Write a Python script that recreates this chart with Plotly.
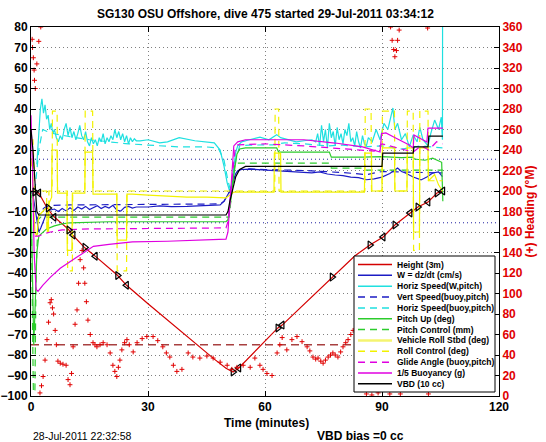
import plotly.graph_objects as go

# ---------------- data ----------------
TITLE = "SG130 OSU Offshore, dive 475 started 29-Jul-2011 03:34:12"
X_TITLE = "Time (minutes)"
Y2_TITLE = "(+) Heading (°M)"
FOOT_LEFT = "28-Jul-2011 22:32:58"
FOOT_MID = "VBD bias =0 cc"
X_TICKS = [0, 30, 60, 90, 120]
Y_TICKS = list(range(-100, 81, 10))
Y2_TICKS = list(range(0, 361, 20))
LEGEND_LABELS = ["Height (3m)", "W = dz/dt (cm/s)", "Horiz Speed(W,pitch)",
                 "Vert Speed(buoy,pitch)", "Horiz Speed(buoy,pitch)", "Pitch Up (deg)",
                 "Pitch Control (mm)", "Vehicle Roll Stbd (deg)", "Roll Control (deg)",
                 "Glide Angle (buoy,pitch)", "1/5 Buoyancy (g)", "VBD (10 cc)"]

height_t = [0, 1, 2, 4, 5.7, 9.6, 10.7, 13.8, 16.6, 22.1, 24.5, 30, 35, 40, 43.3, 47, 50, 51.8,
            53.3, 55, 58, 63.3, 64.4, 70, 77.2, 83, 86.9, 90.3, 93.3, 97.2, 99.2, 101.8, 104.1, 105.6]
height_v = [0, -0.5, -1, -7.8, -12.2, -18.7, -21.5, -27.7, -32, -41, -46, -55, -63, -71, -76, -82, -86.5, -88.3,
            -86.3, -83, -77, -66.8, -65.4, -55.2, -42, -31.7, -26.3, -22.4, -16.6, -10.7, -7.8, -5.4, -1, 0]
target_t = [0, 105.6]
target_v = [-75, -75]
wlim_t = [0, 120]
wlim_hi = [15.5, 15.5]
wlim_lo = [-15.5, -15.5]

w_t = [0, 0.5, 1.0, 1.5, 2.0, 2.5, 3.0, 3.5, 4.0, 4.5, 5, 6, 7, 8, 9, 10, 11, 12, 13, 14, 15, 16, 17, 18, 19,
       20, 21, 22, 23, 24, 25, 26, 27, 28, 30, 33, 36, 40, 44, 47, 48.5, 49.5, 50.3, 51, 51.5, 52, 52.5, 53, 54,
       56, 60, 64, 68, 72, 74, 76, 78, 80, 82, 84, 86, 88, 90, 92, 94, 95, 96, 98, 100, 101.5, 103, 104.5, 105.5]
w_v = [0, -2, -8, -15, -20, -18, -15.6, -12.7, -10.7, -9.5, -9.3, -8.8, -10, -8.5, -9.7, -8.2, -9.5, -7.8, -8.8,
       -7.5, -9, -8, -7.2, -8.5, -7.5, -8.3, -7, -9.3, -9.8, -8, -7.5, -8.3, -7.8, -7.8, -7.8, -7.3, -7.6, -7.5,
       -7.3, -7, -6.8, -5, -2.5, 0, 3, 6, 8.5, 9.8, 10.5, 10.7, 10.2, 9.5, 9, 8.8, 9.3, 8.3, 7.8, 7.5, 6.8, 6.5,
       5.5, 5.9, 6.8, 8.5, 11.2, 9.5, 8.8, 6.8, 5.4, 6.8, 8.8, 9.3, 7]

vs_t = [1.5, 2.5, 3.5, 5, 10, 20, 30, 40, 48.5, 49.5, 50.3, 51, 51.5, 52, 52.5, 53.5, 56, 60, 70, 80, 86,
        90, 95, 100, 105.5]
vs_v = [-14, -10, -8, -7, -6.8, -6.7, -6.6, -6.5, -6.3, -5, -2.5, 0, 3, 6.5, 9, 10.5, 10.8, 10.5, 10, 9, 8,
        9.5, 9.2, 9, 8.8]

hs_t = [1.5, 2.0, 2.4, 2.8, 3.2, 3.6, 4.0, 4.4, 4.8, 5.2, 5.6, 6.0, 6.5, 7.0, 7.5, 8.0, 8.5, 9.0, 9.5, 10,
        10.5, 11, 11.5, 12, 12.5, 13, 13.5, 14, 14.5, 15, 15.5, 16, 16.5, 17, 17.5, 18, 18.5, 19, 19.5, 20,
        20.5, 21, 21.5, 22, 22.5, 23, 23.5, 24, 24.5, 25, 25.5, 26, 26.5, 27, 28, 30, 33, 35, 38, 42,
        45, 47, 48.5, 49.5, 50.3, 51, 51.5, 52, 52.5, 53, 54, 56, 58.7, 61, 63, 64, 66, 68, 70, 72,
        73, 73.5, 74, 74.5, 75, 75.5, 76, 76.5, 77, 77.5, 78, 78.5, 79, 79.5, 80, 80.5, 81, 81.5, 82, 82.5,
        83, 83.5, 84, 84.5, 85, 85.5, 86, 86.5, 87.5, 88.5, 89.5, 90.5, 91.5, 92.8, 93.3, 94, 95, 96, 97, 98,
        99, 99.7, 100.5, 101.8, 102.5, 103.5, 104.5, 105.2, 105.5, 105.6]
hs_v = [13, 30, 40, 45, 38, 42, 35, 37, 30, 33, 28, 30, 26, 24, 27, 25, 30, 33, 27, 31,
        26, 29, 25, 28, 32, 27, 25, 29, 24, 22, 26, 23, 25, 22, 26, 24, 28, 23, 26, 24,
        27, 25, 30, 26, 29, 25, 28, 24, 27, 23, 26, 24, 25.5, 24.5, 24.5, 25, 23.5, 24, 26, 24.5,
        24, 23.5, 20, 12, 4, -0.5, 4, 12, 19, 22, 24, 25, 26.3, 25, 27.5, 26, 25, 24, 24.5, 25,
        24, 28, 22, 32, 24, 30, 21, 33, 26, 29, 22, 31, 25, 28, 23, 30, 27, 33, 24, 26,
        22, 29, 24, 21, 27, 23, 22, 26, 24, 30, 25, 33, 30, 40.5, 30, 33, 25, 28, 21.5, 27.3,
        24, 31, 25, 22, 28, 34.6, 30, 36, 25, 200]

hb_t = [1.0, 2.0, 3.0, 5.0, 10, 15, 20, 25, 30, 38, 45, 48, 49.5, 50.5, 51.2, 51.8, 52.5, 53.5, 56, 62,
        65, 70, 76, 80, 85, 90, 95, 100, 105.5]
hb_v = [0, 20, 30, 28.3, 26.5, 25, 24, 23, 22.4, 21.5, 21.5, 21, 15, 5, 0, 5, 15, 22, 22.4, 22.5,
        23.5, 23, 22, 22.4, 21.5, 22, 20.5, 22, 21]

pitch_t = [0, 0.4, 0.7, 1.0, 1.5, 2, 3, 4, 6, 8, 10, 20, 30, 40, 50, 50.5, 51.2, 52, 52.8, 53.5, 55, 63,
           63.5, 76.5, 77, 85, 90, 95, 98, 98.3, 101, 103, 104.5, 105.3, 105.6]
pitch_v = [-2, -40, -75, -60, -30, -22, -20, -18.5, -17, -16, -15.5, -15, -15, -15, -15, -14, -5, 8, 18, 20.5,
           21, 21, 19, 19, 16.5, 16.5, 16.8, 16.3, 16.5, 15.6, 15, 16, 14.5, 14, -5]

pc_t = [0, 0.3, 0.6, 1.0, 1.3, 1.8, 2.5, 50.8, 51.5, 52.3, 76.5, 77, 85, 85.5, 105.6]
pc_v = [0, -50, -98, -98, -40, -14, -12.7, -12.7, 0, 13.6, 13.6, 11.2, 11.2, 10.2, 10.2]

roll_t = [0.0, 0.3, 0.6, 1.0, 1.5, 2.0, 3.0, 4.0, 4.2, 4.4, 4.6, 5.3, 5.4, 6.7, 6.8, 9.2, 9.3, 10.5, 10.6,
          13.8, 13.9, 15.8, 15.9, 22.0, 22.1, 24.5, 24.6, 26, 30, 35, 40, 45, 50, 51, 52, 53, 62.3, 62.4,
          64.0, 64.1, 70, 80, 85.5, 85.6, 87.3, 87.4, 90.0, 90.1, 93.2, 93.3, 96.4, 96.5, 98.0, 98.1, 99.6,
          99.7, 101.8, 101.9, 103.5, 104.5, 105.5]
roll_v = [12, 16, -5, -20, -22, -12, -10, -8, -20, -20, -6, -3, 20, 20, -1, -1, -29, -29, -1,
          -1, 19, 19, -1.5, -1.5, -24, -24, -1.5, -1.5, -2, -2.5, -3, -3, -3.4, -2, -0.5, -0.5, -0.5, 18.5,
          18.5, -0.5, -0.5, -0.5, -0.5, 18.5, 18.5, 0, 0, 21, 21, 0, 0, 21, 21, -20, -20,
          21, 21, 5, 8, 3, 0]

rc_t = [0.0, 0.5, 1.0, 2.0, 4.0, 4.1, 4.5, 4.6, 5.4, 5.5, 6.7, 6.8, 9.3, 9.4, 10.6, 10.7, 13.8, 13.9,
        15.8, 15.9, 22.0, 22.1, 24.5, 24.6, 50, 52, 62.5, 62.6, 63.5, 63.6, 85.6, 85.7, 87.2, 87.3, 90.0,
        90.1, 93.2, 93.3, 96.4, 96.5, 98.0, 98.1, 99.6, 99.7, 101.8, 101.9, 105.5]
rc_v = [25, 25, 0, 0, 0, -20, -20, 0, 0, 39, 39, 0, 0, -39, -39, 0, 0, 39,
        39, 0, 0, -39, -39, 0, 0, 0, 0, 40, 40, 0, 0, 40, 40, 0, 0,
        39, 39, 0, 0, 39, 39, -29, -29, 39, 39, 5, 5]

glide_t = [1, 2, 3, 5, 8, 15, 30, 50, 50.5, 51.5, 52.3, 53, 60, 70, 80, 85, 88, 90, 92, 96, 98, 100, 102,
           104, 105.5]
glide_v = [-22, -22, -21, -20, -19, -18.5, -18.3, -18, -15, 5, 20, 22.5, 23, 22, 20.5, 20, 19.5, 23, 22, 20,
           19, 22, 20, 24, 23]

buoy_t = [0, 0.4, 0.8, 1.3, 1.8, 3, 5, 7.5, 12, 16, 20, 26, 35, 43, 50, 50.5, 51, 51.5, 52, 53, 55, 70, 78,
          85, 89.5, 89.9, 91, 93, 97, 98, 98.2, 101.5, 101.8, 105.6]
buoy_v = [37, 10, -30, -48, -49, -46, -42, -37.7, -32, -27, -26, -24.8, -24.5, -24, -23.5, -20, -5, 10, 22,
          24, 25, 25, 23.4, 21.5, 19, 28, 28.3, 26.3, 22.4, 21, 27.3, 23.9, 30.7, 30.7]

vbd_t = [0, 0.5, 1.5, 2, 50, 50.5, 51, 51.8, 52.5, 53.5, 55, 90, 90.2, 98, 98.2, 101.8, 102, 105.6]
vbd_v = [30, 20, -10, -11.7, -11.7, -10, -5, 2, 7, 10.5, 12, 12, 18.5, 18.5, 21.5, 21.5, 26.8, 26.8]

head_t = [0.3, 0.4, 0.6, 0.8, 0.9, 1.1, 1.5, 2.0, 2.5,
          2.3, 2.7, 3.1, 3.6, 4.1, 4.5, 4.9, 5.2, 5.5, 5.8, 6.2, 6.5, 6.9, 7.5, 8.2, 9.0, 9.5, 10.0, 10.4, 10.8,
          11.3, 11.8, 12.2, 12.6, 13.1, 13.5, 13.8, 14.2, 14.6, 15.2, 15.9, 16.4, 16.9, 17.7, 18.5, 19.5, 20.3,
          21.0, 21.5, 22.0, 22.4, 22.8, 23.3, 24.0, 24.6, 25.2, 26.2, 27.2,
          28.5, 29.7, 31.3, 32.5, 33.8, 34.7, 35.6, 36.5, 37.4, 38.7, 40.3, 41.5, 43.3, 45.1, 46.7, 48.5, 50.3,
          51.5, 52.8, 54.4, 56.2, 57.4, 58.7, 59.5, 60.5, 61.8, 63.1, 63.8, 64.4, 65.6, 66.9, 68.2, 69.5, 70.8,
          71.5, 72.3, 73.0, 73.6, 74.3, 74.9, 75.5, 76.2, 76.8, 77.4, 78.0, 78.7, 79.4, 80.0, 80.7, 81.3, 82.0,
          82.6, 83.5, 84.5, 85.3, 86.0, 87.4, 89.0, 92.0, 92.2, 92.6, 93.0, 93.3, 93.7, 94.0, 94.4, 94.7,
          101.7, 101.9]
head_deg = [348, 340, 330, 318, 308, 300, 324, 346, 360,
            3, 10, 19, 35, 55, 72, 91, 94, 86, 80, 64, 50, 34, 32, 31, 30, 16, 11, 22, 48,
            70, 84, 110, 133, 142, 125, 110, 92, 74, 60, 52, 50, 48, 50, 52, 50, 42,
            30, 24, 19, 28, 35, 45, 52, 55, 50, 43, 52,
            56, 58, 58, 54, 48, 42, 38, 30, 24, 26, 42, 38, 37, 39, 37, 33, 30,
            26, 28, 30, 28, 37, 30, 26, 22, 20, 42, 50, 57, 45, 55, 58, 53, 48,
            44, 38, 36, 37, 34, 32, 35, 38, 40, 42, 40, 38, 43, 48, 52, 55, 60,
            64, 50, 30, 12, 2, 1, 3, 2, 360, 347, 338, 331, 337, 347, 357, 2,
            359, 2]

gc_in_t = [1.0, 4.4, 9.7, 13.8, 22.2, 51.8, 63.3, 77.2, 86.9, 93.3, 99.2, 104.1]
gc_in_v = [-0.5, -8.3, -19, -27.5, -41.2, -88.3, -66.8, -42, -26.3, -16.6, -7.8, -1]
gc_out_t = [2.0, 5.9, 10.8, 16.5, 24.5, 53.3, 64.4, 90.3, 97.2, 101.8, 105.6]
gc_out_v = [-1, -12.8, -21.5, -31.8, -46, -86.3, -65.4, -22.4, -10.7, -5.4, 0]

# ---------------- styling ----------------
FONT = "Liberation Sans, Arial, Helvetica, sans-serif"
W, H = 546, 442
ML, MR, MT, MB = 31, 47, 27, 46
PW, PH = W - ML - MR, H - MT - MB

RED = "#d40000"
HEAD_RED = "#e00000"
BLUE = "#1c1cc4"
CYAN = "#1fe0e0"
GREEN = "#2ccc2c"
YELLOW = "#f2f200"
MAGENTA = "#e000e0"
BLACK = "#000000"
DASH = "7px,5px"
LW = 1.2


def px(x):
    return (x - ML) / PW


def py(y):
    return (H - MB - y) / PH


fig = go.Figure()


def add_line(t, v, color, dash=None, width=LW):
    n = min(len(t), len(v))
    fig.add_trace(go.Scatter(x=t[:n], y=v[:n], mode="lines",
                             line=dict(color=color, width=width, dash=dash),
                             showlegend=False, hoverinfo="skip"))


# reference lines
add_line(wlim_t, wlim_hi, "#2020a0", dash="1px,3px", width=1)
add_line(wlim_t, wlim_lo, "#2020a0", dash="1px,3px", width=1)
add_line(target_t, target_v, "#a84040", dash="8px,5px", width=1.5)

# series (legend order)
add_line(height_t, height_v, RED)
add_line(w_t, w_v, BLUE)
add_line(hs_t, hs_v, CYAN)
add_line(vs_t, vs_v, BLUE, dash=DASH)
add_line(hb_t, hb_v, CYAN, dash=DASH)
add_line(pitch_t, pitch_v, GREEN)
add_line(pc_t, pc_v, GREEN, dash=DASH)
add_line(roll_t, roll_v, YELLOW)
add_line(rc_t, rc_v, YELLOW, dash=DASH)
add_line(glide_t, glide_v, MAGENTA, dash=DASH)
add_line(buoy_t, buoy_v, MAGENTA)
add_line(vbd_t, vbd_v, BLACK)

# GC markers along the height trace
fig.add_trace(go.Scatter(x=gc_in_t, y=gc_in_v, mode="markers", showlegend=False, hoverinfo="skip",
                         marker=dict(symbol="triangle-right-open", size=7, color=BLACK,
                                     line=dict(color=BLACK, width=1.2))))
fig.add_trace(go.Scatter(x=gc_out_t, y=gc_out_v, mode="markers", showlegend=False, hoverinfo="skip",
                         marker=dict(symbol="triangle-left-open", size=7, color=BLACK,
                                     line=dict(color=BLACK, width=1.2))))

# heading on the right axis
nh = min(len(head_t), len(head_deg))
fig.add_trace(go.Scatter(x=head_t[:nh], y=head_deg[:nh], yaxis="y2", mode="markers",
                         showlegend=False, hoverinfo="skip",
                         marker=dict(symbol="cross-thin", size=3.5, color=HEAD_RED,
                                     line=dict(color=HEAD_RED, width=1))))

# ---------------- legend (drawn box) ----------------
legend_styles = [(RED, None), (BLUE, None), (CYAN, None), (BLUE, DASH), (CYAN, DASH),
                 (GREEN, None), (GREEN, DASH), ("#f4f470", None), (YELLOW, DASH),
                 (MAGENTA, DASH), (MAGENTA, None), (BLACK, None)]
shapes = [dict(type="rect", xref="paper", yref="paper", x0=px(354), x1=px(495), y0=py(392), y1=py(256),
               fillcolor="white", line=dict(color="black", width=1), layer="above")]
annotations = []
for i, (lab, (col, dsh)) in enumerate(zip(LEGEND_LABELS, legend_styles)):
    yy = 264.5 + 10.85 * i
    shapes.append(dict(type="line", xref="paper", yref="paper", x0=px(358), x1=px(392),
                       y0=py(yy), y1=py(yy), layer="above",
                       line=dict(color=col, width=1.5 if col != "#f4f470" else 2.5, dash=dsh)))
    annotations.append(dict(text=lab, xref="paper", yref="paper", x=px(395), y=py(yy),
                            xanchor="left", yanchor="middle", showarrow=False,
                            font=dict(family=FONT, size=8.5, color="black", weight="bold")))

annotations += [
    dict(text=TITLE, xref="paper", yref="paper", x=0.5, y=py(14), xanchor="center", yanchor="middle",
         showarrow=False, font=dict(family=FONT, size=12, color="black", weight="bold")),
    dict(text=X_TITLE, xref="paper", yref="paper", x=px(266), y=py(423), xanchor="center",
         yanchor="middle", showarrow=False, font=dict(family=FONT, size=12, color="black", weight="bold")),
    dict(text=FOOT_LEFT, xref="paper", yref="paper", x=px(31), y=py(436), xanchor="left",
         yanchor="middle", showarrow=False, font=dict(family=FONT, size=10.5, color="black")),
    dict(text=FOOT_MID, xref="paper", yref="paper", x=px(360), y=py(436), xanchor="center",
         yanchor="middle", showarrow=False, font=dict(family=FONT, size=12, color="black", weight="bold")),
]

tickfont = dict(family=FONT, size=12, color="black", weight="bold")
grid = dict(showgrid=True, gridcolor="#808080", gridwidth=1, griddash="1px,3px")

fig.update_layout(
    width=W, height=H, margin=dict(l=ML, r=MR, t=MT, b=MB, pad=0),
    paper_bgcolor="white", plot_bgcolor="white", showlegend=False,
    font=dict(family=FONT),
    xaxis=dict(range=[0, 120], tickmode="array", tickvals=X_TICKS, ticks="inside", ticklen=5,
               tickcolor="black", showline=True, linecolor="black", linewidth=1, mirror="ticks",
               zeroline=False, tickfont=tickfont, automargin=False, **grid),
    yaxis=dict(range=[-100, 80], tickmode="array", tickvals=Y_TICKS, ticks="inside", ticklen=5,
               tickcolor="black", showline=True, linecolor="black", linewidth=1, zeroline=False,
               tickfont=tickfont, automargin=False, **grid),
    yaxis2=dict(range=[0, 360], overlaying="y", side="right", tickmode="array", tickvals=Y2_TICKS,
                ticks="inside", ticklen=5, tickcolor="black", showline=True, linecolor="black",
                linewidth=1, showgrid=False, zeroline=False, automargin=False,
                tickfont=dict(family=FONT, size=12, color=HEAD_RED, weight="bold"),
                title=dict(text=Y2_TITLE, standoff=3,
                           font=dict(family=FONT, size=12, color=HEAD_RED, weight="bold"))),
    shapes=shapes, annotations=annotations,
)

fig.write_html("out.html", config={"displayModeBar": False, "staticPlot": True},
               post_script="document.body.style.margin='0';document.body.style.padding='0';")
